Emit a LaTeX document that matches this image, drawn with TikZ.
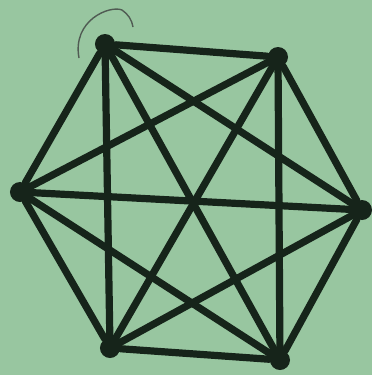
\documentclass[tikz,border=0pt]{standalone}
\definecolor{bg}{RGB}{152,198,160}
\definecolor{ink}{RGB}{22,36,26}
\begin{document}
\begin{tikzpicture}[x=0.01cm,y=-0.01cm,
  vtx/.style={circle,fill=ink,inner sep=0pt,minimum size=0.2cm},
  edge/.style={draw=ink,line width=0.072cm,line cap=round}]
\fill[bg] (0,0) rectangle (372,375);
\useasboundingbox (0,0) rectangle (372,375);
\node[vtx] (a) at (105,44) {};
\node[vtx] (b) at (278,57) {};
\node[vtx] (c) at (20,192) {};
\node[vtx] (d) at (362,210) {};
\node[vtx] (e) at (110,348) {};
\node[vtx] (f) at (280,360) {};
\foreach \u/\v in {a/b,a/c,a/d,a/e,a/f,b/c,b/d,b/e,b/f,c/d,c/e,c/f,d/e,d/f,e/f}
  \draw[edge] (\u) -- (\v);
\draw[ink!75,line width=0.014cm] (79,58) .. controls (72,20) and (110,5) .. (122,10) .. controls (128,14) and (132,20) .. (133,27);
\end{tikzpicture}
\end{document}
